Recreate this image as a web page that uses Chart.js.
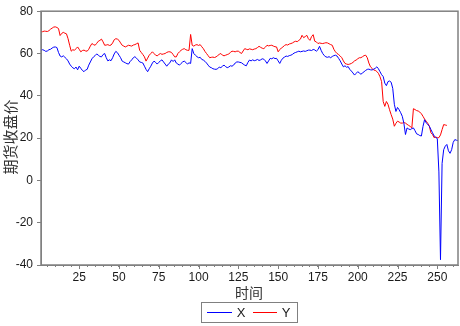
<!DOCTYPE html>
<html>
<head>
<meta charset="utf-8">
<script src="https://cdn.jsdelivr.net/npm/chart.js@4.4.1/dist/chart.umd.min.js"></script>
<style>
  html, body { margin: 0; padding: 0; background: #fff; }
  #wrap { width: 460px; height: 326px; }
</style>
</head>
<body>
<div id="wrap"><canvas id="c" width="460" height="326"></canvas></div>
<script>
// Series X (blue), one value per period starting at 1
const seriesX = [
  61.5, 61.8, 61.5, 61.0, 61.2, 61.8, 62.0, 62.6, 63.0, 63.1,
  62.8, 60.5, 58.8, 58.4, 58.9, 58.2, 57.5, 56.5, 55.0, 54.0,
  53.2, 52.8, 53.6, 52.3, 54.0, 53.0, 52.0, 51.4, 52.2, 52.5,
  54.5, 56.0, 57.5, 58.4, 59.0, 59.8, 59.2, 58.6, 58.4, 59.5,
  60.0, 58.0, 56.5, 57.0, 56.6, 58.0, 59.8, 61.0, 60.4, 59.2,
  58.0, 56.4, 56.0, 55.6, 55.2, 55.0, 56.2, 57.0, 58.0, 58.5,
  57.8, 57.0, 56.0, 55.8, 55.5, 54.0, 52.5, 51.4, 52.8, 54.0,
  55.5, 56.4, 55.8, 55.0, 55.8, 56.5, 57.0, 56.0, 55.0, 54.0,
  55.0, 55.6, 57.0, 56.2, 57.0, 55.5, 55.0, 54.5, 55.3, 56.0,
  56.4, 55.8, 55.0, 55.6, 55.3, 62.3, 60.0, 59.2, 58.5, 58.0,
  58.2, 57.2, 56.9, 56.3, 55.5, 54.5, 53.6, 53.3, 52.8, 52.6,
  52.5, 52.8, 53.6, 53.3, 54.0, 54.5, 53.8, 53.3, 53.6, 54.2,
  54.0, 54.5, 55.5, 56.0, 56.0, 55.8, 55.6, 55.0, 54.5, 54.2,
  55.8, 56.9, 56.5, 57.0, 56.6, 56.8, 57.2, 56.7, 57.0, 57.5,
  57.3, 56.5, 55.3, 56.5, 57.7, 57.5, 58.0, 57.6, 57.7, 56.5,
  55.3, 56.8, 57.8, 58.3, 58.8, 58.6, 59.0, 59.2, 59.6, 60.2,
  60.5, 60.8, 61.1, 60.8, 61.0, 61.2, 61.0, 61.3, 61.6, 61.6,
  61.4, 61.9, 61.7, 61.1, 61.8, 63.4, 61.5, 60.0, 59.0, 58.4,
  58.2, 58.5, 58.0, 58.6, 59.0, 59.2, 58.8, 57.7, 56.5, 55.0,
  53.7, 54.2, 53.5, 53.8, 52.5, 51.7, 50.8, 49.8, 50.6, 51.4,
  50.8, 50.2, 50.8, 51.4, 52.0, 52.5, 52.6, 52.3, 52.2, 52.6,
  53.0, 53.7, 52.8, 51.4, 50.0, 49.1, 46.0, 44.8, 46.7, 47.0,
  46.4, 43.5, 36.0, 32.6, 34.5, 33.4, 32.0, 30.3, 27.0, 21.7,
  24.8, 24.3, 24.0, 24.5, 24.8, 23.5, 22.0, 21.7, 21.2, 21.0,
  25.5, 28.7, 27.2, 26.5, 25.6, 24.0, 22.5, 21.0, 20.3, 19.8,
  4.0, -37.5, 8.0, 14.5, 16.2, 17.0, 14.0, 12.8, 14.5, 18.0,
  19.3, 19.0, 18.8
];

// Series Y (red), shorter than X
const seriesY = [
  70.5, 70.3, 70.6, 70.5, 70.4, 70.8, 71.5, 72.0, 72.5, 72.6,
  72.3, 71.8, 68.5, 69.5, 70.0, 69.6, 69.3, 67.0, 63.9, 61.1,
  61.8, 61.5, 62.3, 63.1, 62.0, 60.8, 61.4, 61.6, 61.2, 61.1,
  62.0, 63.5, 64.7, 64.2, 63.9, 64.8, 65.8, 66.2, 66.8, 65.5,
  63.9, 64.0, 64.2, 63.8, 64.0, 65.0, 66.5, 67.0, 66.8, 66.2,
  65.0, 63.9, 63.5, 63.1, 63.5, 63.9, 63.7, 63.5, 64.0, 64.2,
  64.6, 65.0, 61.5, 60.5, 59.5, 58.4, 56.4, 57.8, 59.2, 60.0,
  60.8, 60.0, 59.2, 58.9, 59.5, 60.0, 59.6, 59.8, 60.0, 60.5,
  60.8, 60.8, 60.5, 59.5, 58.4, 58.4, 60.0, 60.8, 61.5, 62.0,
  62.3, 61.8, 61.5, 61.5, 69.0, 63.9, 63.5, 64.0, 64.2, 63.8,
  64.2, 63.2, 62.3, 61.0, 60.0, 59.0, 58.0, 58.2, 58.3, 58.1,
  58.4, 59.0, 59.6, 60.0, 59.2, 58.9, 59.2, 59.5, 59.8, 60.5,
  61.1, 61.0, 60.8, 61.1, 61.1, 60.5, 60.0, 61.2, 62.3, 62.0,
  61.8, 62.2, 62.0, 61.8, 62.1, 62.3, 62.8, 63.4, 62.9, 62.5,
  62.3, 63.0, 63.9, 63.6, 63.8, 63.9, 63.5, 63.2, 63.1, 60.8,
  61.8, 62.6, 63.1, 63.8, 64.2, 64.0, 64.5, 64.7, 65.0, 65.5,
  65.8, 65.6, 66.2, 66.8, 68.6, 67.5, 68.0, 68.6, 67.0, 66.2,
  68.0, 68.9, 65.8, 65.5, 64.7, 65.0, 64.8, 64.7, 64.9, 65.1,
  65.0, 64.6, 64.2, 63.9, 62.0, 60.8, 60.0, 59.5, 58.8, 58.0,
  56.5, 55.3, 55.0, 54.8, 55.0, 55.3, 55.8, 56.5, 56.9, 57.5,
  58.0, 58.0, 58.5, 59.0, 59.2, 58.0, 55.5, 53.7, 53.0, 52.2,
  52.0, 51.5, 50.6, 49.0, 46.7, 37.3, 35.0, 37.3, 36.0, 33.4,
  31.1, 29.0, 25.6, 27.0, 28.0, 27.6, 27.1, 27.1, 27.3, 27.1,
  26.5, 26.0, 25.5, 24.8, 33.9, 33.5, 33.0, 32.8, 32.3, 31.5,
  30.3, 29.0, 28.0, 27.0, 25.6, 22.5, 21.7, 20.2, 20.5, 20.2,
  20.2, 21.5, 24.0, 26.4, 26.2, 26.0
];

const xTicks = [25, 50, 75, 100, 125, 150, 175, 200, 225, 250];
const yTicks = [-40, -20, 0, 20, 40, 60, 80];
const seriesNames = ['X', 'Y'];
const seriesColors = ['#0000ff', '#ff0000'];

const axisColor = '#808080';
const textColor = '#1a1a1a';
const labelFont = '"Liberation Sans", Arial, sans-serif';

function toPoints(arr) {
  return arr.map((v, i) => ({ x: i + 1, y: v }));
}

// Frame, long major ticks, axis titles and the boxed legend
const decorations = {
  id: 'decorations',
  afterDraw(chart) {
    const ctx = chart.ctx;
    const a = chart.chartArea;
    const xs = chart.scales.x;
    ctx.save();

    // frame round the plot
    ctx.strokeStyle = axisColor;
    ctx.lineWidth = 1.5;
    ctx.strokeRect(a.left, a.top, a.right - a.left, a.bottom - a.top);

    // major ticks on x are a bit longer
    ctx.lineWidth = 1;
    ctx.beginPath();
    for (const v of xTicks) {
      const px = Math.round(xs.getPixelForValue(v)) + 0.5;
      ctx.moveTo(px, a.bottom);
      ctx.lineTo(px, a.bottom + 4);
    }
    ctx.stroke();

    // axis titles
    ctx.fillStyle = '#333';
    ctx.textAlign = 'center';
    ctx.textBaseline = 'middle';
    ctx.font = '14px "Noto Sans CJK SC", sans-serif';
    ctx.fillText('时间', 249, 293);
    ctx.save();
    ctx.translate(10, 137);
    ctx.rotate(-Math.PI / 2);
    ctx.font = '15px "Noto Sans CJK SC", sans-serif';
    ctx.fillText('期货收盘价', 0, 0);
    ctx.restore();

    // legend box
    ctx.strokeStyle = axisColor;
    ctx.lineWidth = 1;
    ctx.strokeRect(201.5, 302.5, 96, 20);
    const items = [
      { x0: 207, x1: 232, tx: 241 },
      { x0: 253, x1: 277, tx: 286 }
    ];
    ctx.font = '13px ' + labelFont;
    ctx.fillStyle = textColor;
    items.forEach((it, i) => {
      ctx.strokeStyle = seriesColors[i];
      ctx.beginPath();
      ctx.moveTo(it.x0, 312.5);
      ctx.lineTo(it.x1, 312.5);
      ctx.stroke();
      ctx.fillText(seriesNames[i], it.tx, 313);
    });

    ctx.restore();
  }
};

new Chart(document.getElementById('c'), {
  type: 'line',
  data: {
    datasets: [
      {
        label: seriesNames[0],
        data: toPoints(seriesX),
        borderColor: seriesColors[0],
        borderWidth: 1,
        pointRadius: 0,
        tension: 0
      },
      {
        label: seriesNames[1],
        data: toPoints(seriesY),
        borderColor: seriesColors[1],
        borderWidth: 1,
        pointRadius: 0,
        tension: 0
      }
    ]
  },
  options: {
    responsive: false,
    animation: false,
    events: [],
    layout: { padding: { top: 9, right: 2, left: 0, bottom: 0 } },
    plugins: {
      legend: { display: false },
      tooltip: { enabled: false }
    },
    scales: {
      x: {
        type: 'linear',
        min: 1,
        max: 263,
        afterBuildTicks(scale) {
          // minor ticks every 5, labels only on the majors
          const t = [];
          for (let v = 5; v <= 260; v += 5) t.push({ value: v });
          scale.ticks = t;
        },
        afterFit(scale) { scale.height = 61; },
        border: { display: true, color: axisColor, width: 1 },
        grid: {
          drawOnChartArea: false,
          drawTicks: true,
          tickLength: 2,
          color: axisColor
        },
        ticks: {
          autoSkip: false,
          maxRotation: 0,
          padding: 3,
          color: textColor,
          font: { family: labelFont, size: 12 },
          callback: v => (xTicks.includes(v) ? String(v) : '')
        }
      },
      y: {
        type: 'linear',
        min: -40,
        max: 80,
        afterBuildTicks(scale) {
          scale.ticks = yTicks.map(v => ({ value: v }));
        },
        afterFit(scale) { scale.width = 41; },
        border: { display: true, color: axisColor, width: 1 },
        grid: {
          drawOnChartArea: false,
          drawTicks: true,
          tickLength: 4,
          color: axisColor
        },
        ticks: {
          padding: 4,
          color: textColor,
          font: { family: labelFont, size: 12 }
        }
      }
    }
  },
  plugins: [decorations]
});
</script>
</body>
</html>
